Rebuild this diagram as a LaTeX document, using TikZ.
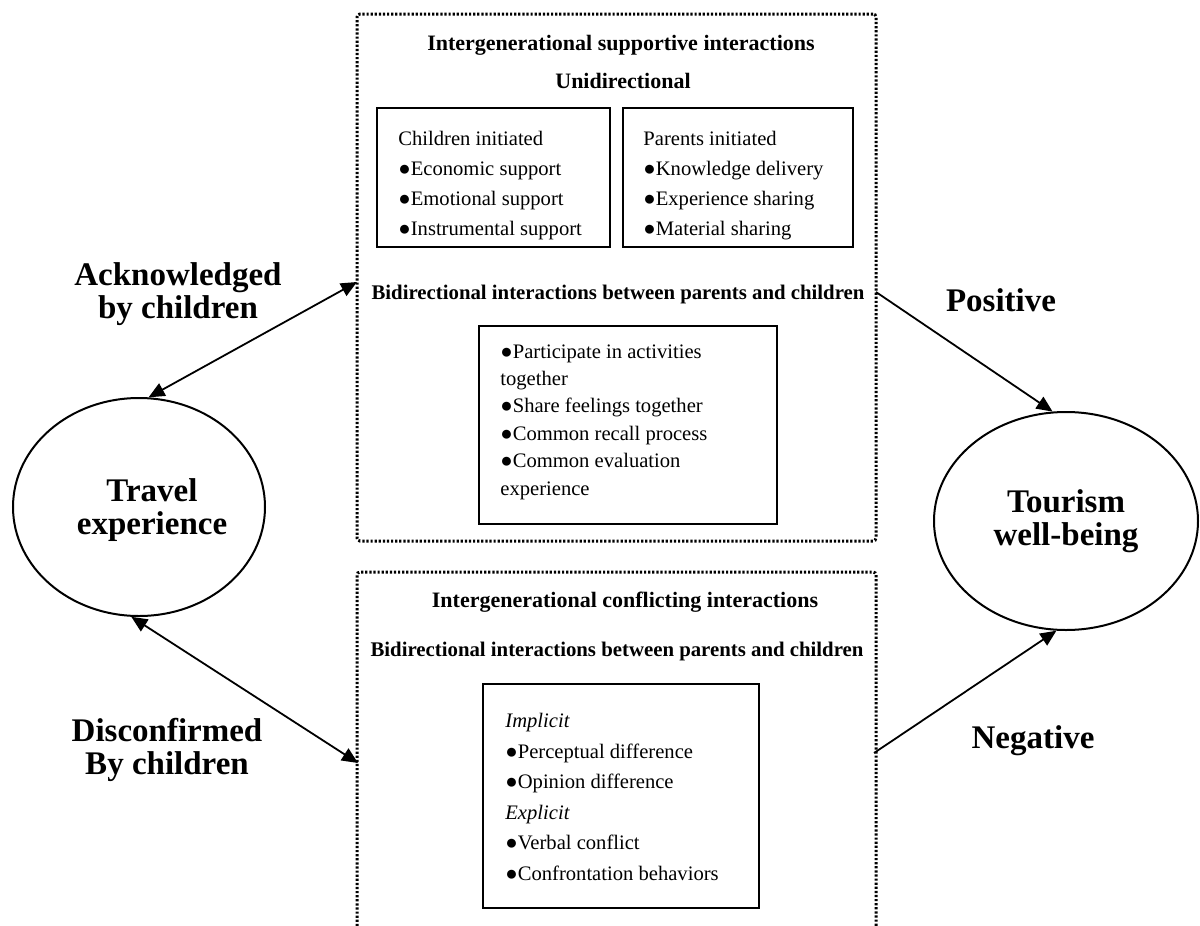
\documentclass[tikz,border=0pt]{standalone}
\usepackage{fontspec}
\setmainfont{Liberation Serif}
\usetikzlibrary{arrows.meta,shapes.geometric}
\begin{document}
\begin{tikzpicture}[x=0.5pt,y=-0.5pt,
  dotbox/.style={line width=1.5pt, dash pattern=on 1.1pt off 0.95pt, rounded corners=1.5pt},
  inbox/.style={draw, line width=1pt, rectangle, inner sep=0pt},
  body/.style={align=left, inner sep=0pt, anchor=west},
  head/.style={font=\fontsize{11pt}{13pt}\selectfont\bfseries, inner sep=0pt},
  headsm/.style={font=\fontsize{10.4pt}{13pt}\selectfont\bfseries, inner sep=0pt},
  big/.style={font=\fontsize{16.5pt}{16.5pt}\selectfont\bfseries, align=center, inner sep=0pt},
  oval/.style={draw, ellipse, line width=1pt, inner sep=0pt},
  arr/.style={line width=0.9pt, -{Triangle[length=8pt,width=7pt]}},
  darr/.style={line width=0.9pt, {Triangle[length=8pt,width=7pt]}-{Triangle[length=8pt,width=7pt]}}]
\useasboundingbox (0,0) rectangle (1200,926);

% dotted containers
\node[draw, dotbox, minimum width=259.5pt, minimum height=263.5pt, inner sep=0pt] (supbox) at (616.5,277.5) {};
\draw[dotbox] (357,926) -- (357,572) -- (876,572) -- (876,926);
\coordinate (a1) at (357,282);
\coordinate (p1) at (876,292);
\coordinate (b1) at (358,763);
\coordinate (n1) at (874,753);

% headings
\node[head] (h1) at (621,45) {Intergenerational supportive interactions};
\node[head] (h2) at (623,81) {Unidirectional};
\node[headsm] (h3) at (618,294) {Bidirectional interactions between parents and children};
\node[head] (h4) at (625,602) {Intergenerational conflicting interactions};
\node[headsm] (h5) at (617,651) {Bidirectional interactions between parents and children};

% inner boxes
\node[inbox, minimum width=116.5pt, minimum height=69.5pt] (cbox) at (493.5,177.5) {};
\node[inbox, minimum width=115pt, minimum height=69.5pt] (pbox) at (738,177.5) {};
\node[inbox, minimum width=149pt, minimum height=99pt] (bbox) at (628,425) {};
\node[inbox, minimum width=138pt, minimum height=112pt] (lbox) at (621,796) {};

\node[body, font=\fontsize{10.3pt}{15pt}\selectfont] (ctext) at (398,186)
  {Children initiated\\●Economic support\\●Emotional support\\●Instrumental support};
\node[body, font=\fontsize{10.3pt}{15pt}\selectfont] (ptext) at (643,186)
  {Parents initiated\\●Knowledge delivery\\●Experience sharing\\●Material sharing};
\node[body, font=\fontsize{10.3pt}{13.7pt}\selectfont] (btext) at (500,422)
  {●Participate in activities\\together\\●Share feelings together\\●Common recall process\\●Common evaluation\\experience};
\node[body, font=\fontsize{10.3pt}{15.3pt}\selectfont] (ltext) at (505,797)
  {\textit{Implicit}\\●Perceptual difference\\●Opinion difference\\\textit{Explicit}\\●Verbal conflict\\●Confrontation behaviors};

% ellipses
\node[oval, minimum width=126pt, minimum height=109pt] (travel) at (139,507) {};
\node[big] (ttext) at (152,510) {Travel\\experience};
\node[oval, minimum width=132pt, minimum height=109pt, font=\fontsize{16.5pt}{16.5pt}\selectfont\bfseries, align=center] (tourism) at (1066,521) {Tourism\\well-being};

% side labels
\node[big] (ack) at (178,294) {Acknowledged\\by children};
\node[big] (dis) at (167,750) {Disconfirmed\\By children};
\node[big] (pos) at (1001,300) {Positive};
\node[big] (neg) at (1033,741) {Negative};

% connectors
\draw[darr] (a1) -- (travel.85);
\draw[darr] (b1) -- (travel.266);
\draw[arr] (p1) -- (tourism.97);
\draw[arr] (n1) -- (tourism.265);
\end{tikzpicture}
\end{document}
